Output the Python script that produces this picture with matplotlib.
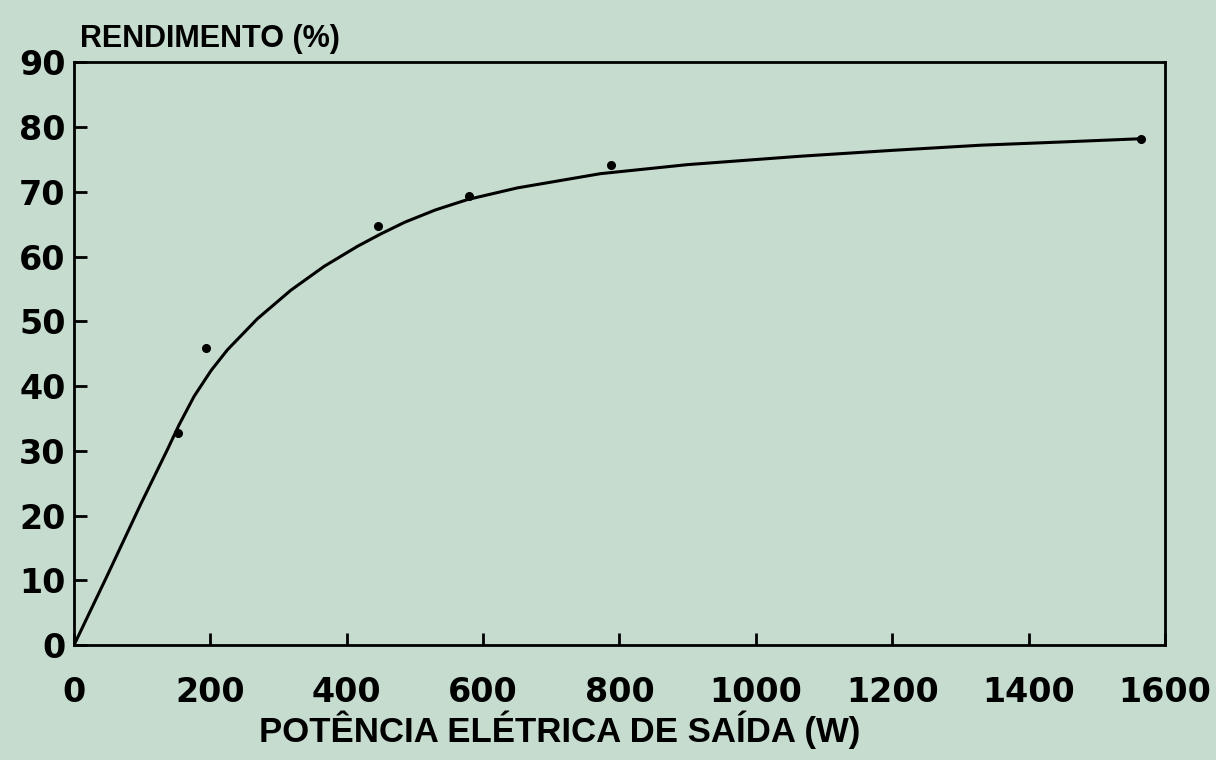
import numpy as np
import matplotlib.pyplot as plt

# pontos medidos
pot_medida = [153, 193, 446, 579, 788, 1565]
rend_medido = [32.8, 45.8, 64.7, 69.4, 74.2, 78.2]

# curva ajustada
pot_curva = [0, 49, 98, 137, 154, 176, 201, 225, 269, 318, 367, 416, 450, 485,
             530, 577, 650, 772, 900, 1066, 1200, 1330, 1450, 1565]
rend_curva = [0, 10.8, 21.8, 30.2, 34.0, 38.4, 42.4, 45.6, 50.4, 54.8, 58.5, 61.6, 63.5, 65.3,
              67.2, 68.8, 70.6, 72.8, 74.2, 75.5, 76.4, 77.2, 77.7, 78.2]

xticks = [0, 200, 400, 600, 800, 1000, 1200, 1400, 1600]
yticks = [0, 10, 20, 30, 40, 50, 60, 70, 80, 90]

fundo = '#c6dccf'
plt.rcParams['font.family'] = ['DejaVu Sans']
plt.rcParams['font.weight'] = 'bold'

fig = plt.figure(figsize=(12.16, 7.6), dpi=100, facecolor=fundo)
ax = fig.add_axes([0.0609, 0.1513, 0.8971, 0.7667], facecolor=fundo)

ax.plot(pot_curva, rend_curva, color='black', lw=2.2, solid_capstyle='round',
        solid_joinstyle='round')
ax.plot(pot_medida, rend_medido, 'o', color='black', ms=5.5)

ax.set_xlim(0, 1600)
ax.set_ylim(0, 90)
ax.set_xticks(xticks)
ax.set_yticks(yticks)
ax.tick_params(direction='in', length=9, width=2, labelsize=24, colors='black')
ax.tick_params(axis='x', pad=22)
ax.tick_params(axis='y', pad=6)
for s in ax.spines.values():
    s.set_linewidth(2)
for lab in ax.get_xticklabels() + ax.get_yticklabels():
    lab.set_fontweight('bold')

fig.text(0.4605, 0.024, 'POTÊNCIA ELÉTRICA DE SAÍDA (W)', fontsize=25,
         family='Liberation Sans', fontweight='bold', ha='center', va='baseline')
ax.text(0.0055, 1.026, 'RENDIMENTO (%)', transform=ax.transAxes, fontsize=22,
        family='Liberation Sans', fontweight='bold', ha='left', va='baseline')

fig.savefig('out.png', dpi=100, facecolor=fundo)
